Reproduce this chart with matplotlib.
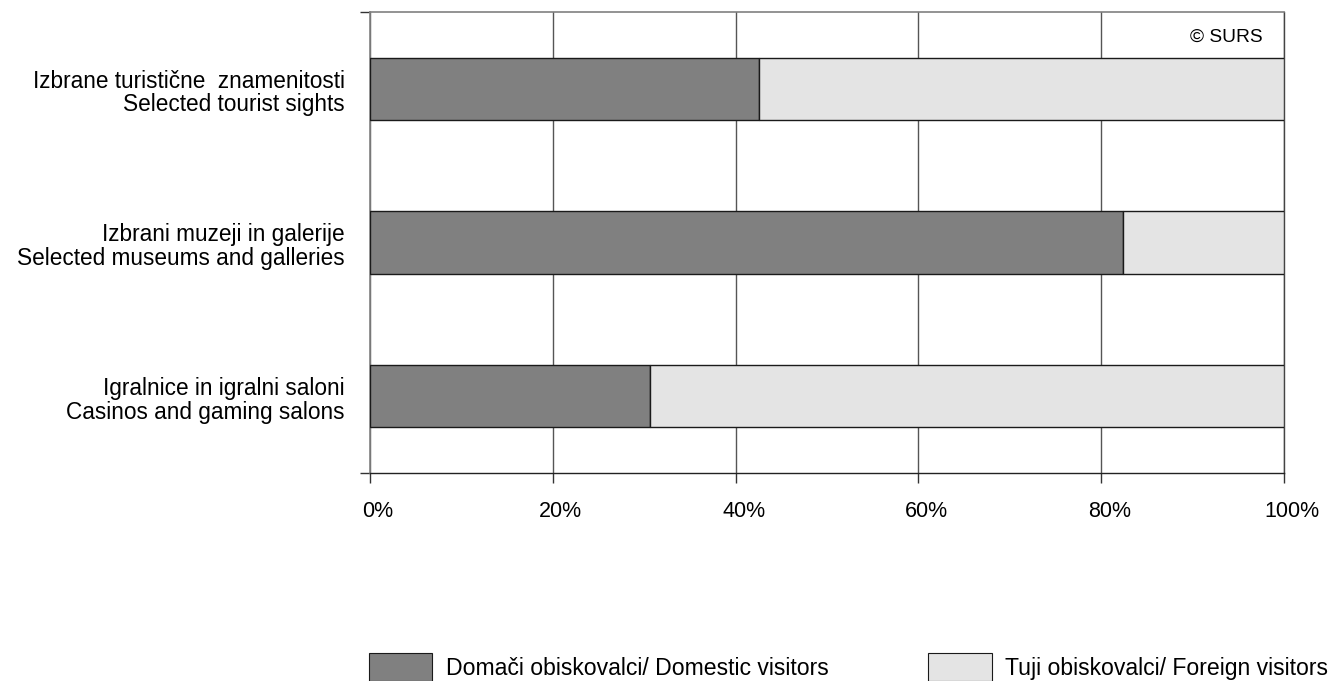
import matplotlib
matplotlib.use("Agg")
import matplotlib.pyplot as plt
from matplotlib.ticker import FixedLocator
from matplotlib.transforms import ScaledTranslation

plt.rcParams['font.family'] = ['Liberation Sans', 'DejaVu Sans']

categories = [
    "Izbrane turistične  znamenitosti\nSelected tourist sights",
    "Izbrani muzeji in galerije\nSelected museums and galleries",
    "Igralnice in igralni saloni\nCasinos and gaming salons",
]
domestic = [42.6, 82.4, 30.6]
foreign = [57.4, 17.6, 69.4]
xticks = [0, 20, 40, 60, 80, 100]
xticklabels = ["0%", "20%", "40%", "60%", "80%", "100%"]
series_names = ["Domači obiskovalci/ Domestic visitors", "Tuji obiskovalci/ Foreign visitors"]

fig = plt.figure(figsize=(13.31, 6.81), dpi=100)
ax = fig.add_axes([370/1331, 1-473/681, (1284-370)/1331, (473-12)/681])

ypos = list(range(len(categories)))
b1 = ax.barh(ypos, domestic, height=0.405, color="#808080", edgecolor="#1a1a1a", linewidth=1.0, zorder=3,
             label=series_names[0])
b2 = ax.barh(ypos, foreign, left=domestic, height=0.405, color="#e4e4e4", edgecolor="#1a1a1a", linewidth=1.0,
             zorder=3, label=series_names[1])

ax.set_xlim(0, 100)
ax.set_ylim(2.5, -0.5)

ax.set_xticks(xticks)
ax.set_xticklabels(xticklabels, fontsize=15.5)
ax.tick_params(axis='x', length=7, width=1, color="#333333", pad=13)
shift = ScaledTranslation(8/100, 0, fig.dpi_scale_trans)
for lbl in ax.get_xticklabels():
    lbl.set_transform(lbl.get_transform() + shift)
ax.xaxis.grid(True, color="#555555", linewidth=1.0, zorder=0)

ax.set_yticks(ypos)
ax.set_yticklabels(categories, fontsize=16.3, ha='right', linespacing=1.02)
ax.tick_params(axis='y', which='major', length=0, pad=18)
yshift = ScaledTranslation(0, -1.5/100, fig.dpi_scale_trans)
for lbl in ax.get_yticklabels():
    lbl.set_transform(lbl.get_transform() + yshift)
ax.yaxis.set_minor_locator(FixedLocator([-0.5, 2.5]))
ax.tick_params(axis='y', which='minor', length=7, width=1, color="#333333")

for s in ['left', 'top']:
    ax.spines[s].set_color("#808080")
    ax.spines[s].set_linewidth(1.2)
ax.spines['bottom'].set_color("#222222")
ax.spines['bottom'].set_linewidth(1.0)
ax.spines['right'].set_color("#444444")
ax.spines['right'].set_linewidth(1.0)

ax.text(0.977, 0.946, "© SURS", transform=ax.transAxes, ha='right', va='center', fontsize=13.8)

leg = fig.legend(handles=[b1, b2], labels=series_names, loc='center left',
                 bbox_to_anchor=(369/1331, 1-667/681), ncol=2, frameon=False,
                 fontsize=16.6, handlelength=2.75, handleheight=1.45, handletextpad=0.6,
                 columnspacing=4.3, borderpad=0, borderaxespad=0)
for h in leg.legend_handles:
    h.set_edgecolor("#1a1a1a")
    h.set_linewidth(0.8)

fig.savefig("out.png", dpi=100)
